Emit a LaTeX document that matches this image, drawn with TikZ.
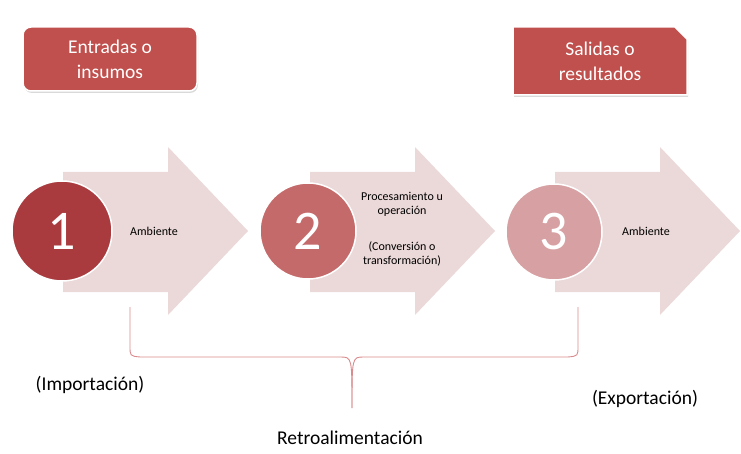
\documentclass[tikz,border=0pt]{standalone}
\usepackage{fontspec}
\setmainfont{Carlito}
\usetikzlibrary{shapes.misc,shadows}
\definecolor{boxred}{HTML}{C0504D}
\definecolor{arrowpink}{HTML}{EBD8D8}
\definecolor{numone}{HTML}{A93B3F}
\definecolor{numtwo}{HTML}{C56A6A}
\definecolor{numthree}{HTML}{D7A0A2}
\definecolor{bracered}{HTML}{D98A8C}
\newcommand{\bigarrow}[1]{%
  \fill[arrowpink] (#1,172) -- ++(105,0) -- ++(0,-25) -- ++(80,84) -- ++(-80,84) -- ++(0,-23) -- ++(-105,0) -- cycle;}

\begin{document}
\begin{tikzpicture}[x=1pt,y=-1pt,font=\fontsize{19.5}{25}\selectfont]
  \tikzstyle{titlebox}=[fill=boxred,draw=white,line width=1.5pt,text=white,align=center,
    minimum width=174pt,minimum height=64pt,drop shadow={opacity=0.3,shadow xshift=1pt,shadow yshift=-2pt}]
  \tikzstyle{number}=[circle,draw=white,line width=1.5pt,minimum size=96pt,text=white,
    font=\fontsize{56}{56}\selectfont]
  \tikzstyle{small}=[font=\fontsize{12}{14}\selectfont,align=center]
  \tikzstyle{brace}=[draw=bracered,line width=0.9pt]

  \useasboundingbox (0,0) rectangle (741,454);

  \node[titlebox,rounded corners=8pt] (in)  at (110,59) {Entradas o\\insumos};
  \node[titlebox,chamfered rectangle,chamfered rectangle corners=north east,
        chamfered rectangle xsep=9pt,inner sep=6pt,minimum height=68pt] (out) at (600,61) {Salidas o\\resultados};

  \bigarrow{63}
  \bigarrow{310}
  \bigarrow{555}

  \node[number,fill=numone,minimum size=100pt] (n1) at (62,231)  {1};
  \node[number,fill=numtwo]   (n2) at (308,231) {2};
  \node[number,fill=numthree] (n3) at (554,232) {3};

  \node[small] (amb1) at (154,231) {Ambiente};
  \node[small] (proc) at (402,204) {Procesamiento u\\operación};
  \node[small] (conv) at (402,254) {(Conversión o\\transformación)};
  \node[small] (amb2) at (646,231) {Ambiente};

  \coordinate (bl) at (130,307);
  \coordinate (br) at (578,307);
  \coordinate (bm) at (352,408);
  \draw[brace] (bl) -- (130,346) .. controls (130,356) .. (140,357) -- (340,357)
    .. controls (352,357) .. (bm);
  \draw[brace] (br) -- (578,346) .. controls (578,356) .. (568,357) -- (364,357)
    .. controls (352,357) .. (bm);

  \node (imp) at (90,385) {(Importación)};
  \node (exp) at (645,399) {(Exportación)};
  \node (retro) at (350,438) {Retroalimentación};
\end{tikzpicture}
\end{document}
